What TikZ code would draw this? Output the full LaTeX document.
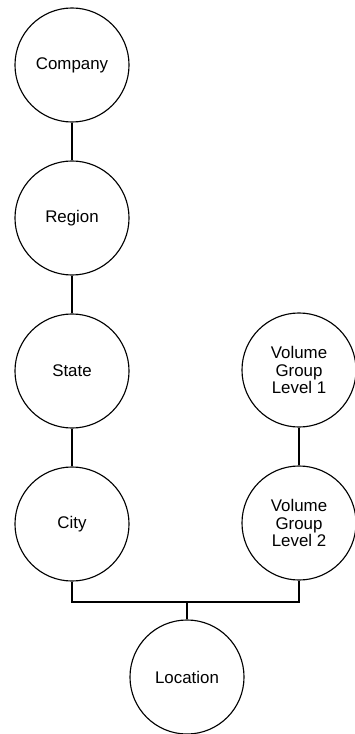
\documentclass[tikz,border=0pt]{standalone}
\usepackage{fontspec}
\setmainfont{Liberation Sans}
\usetikzlibrary{positioning,calc}

\tikzset{
    entity/.style={circle,draw,line width=0.8pt,minimum size=2.85cm,inner sep=0pt,
        align=center,font=\fontsize{12}{12.5}\selectfont},
    link/.style={line width=0.8pt}
}

\begin{document}
\begin{tikzpicture}[x=0.025cm,y=-0.025cm]
    \useasboundingbox (0,0) rectangle (354,734);

    \foreach \name/\y/\label in {comp/65/Company, reg/218/Region, st/371/State, city/524/City} {
        \node[entity] (\name) at (72, \y) {\label};
    }

    \node[entity] (vgone) at (299, 370) {Volume\\Group\\Level 1};
    \node[entity] (vgtwo) at (299, 523) {Volume\\Group\\Level 2};
    \node[entity] (loc) at (187, 677) {Location};

    \coordinate (bus) at (187, 602);

    \draw[link] (comp) -- (reg);
    \draw[link] (reg) -- (st);
    \draw[link] (st) -- (city);
    \draw[link] (vgone) -- (vgtwo);
    \draw[link] (city.south) |- (bus) -| (vgtwo.south);
    \draw[link] (bus) -- (loc.north);
\end{tikzpicture}
\end{document}
